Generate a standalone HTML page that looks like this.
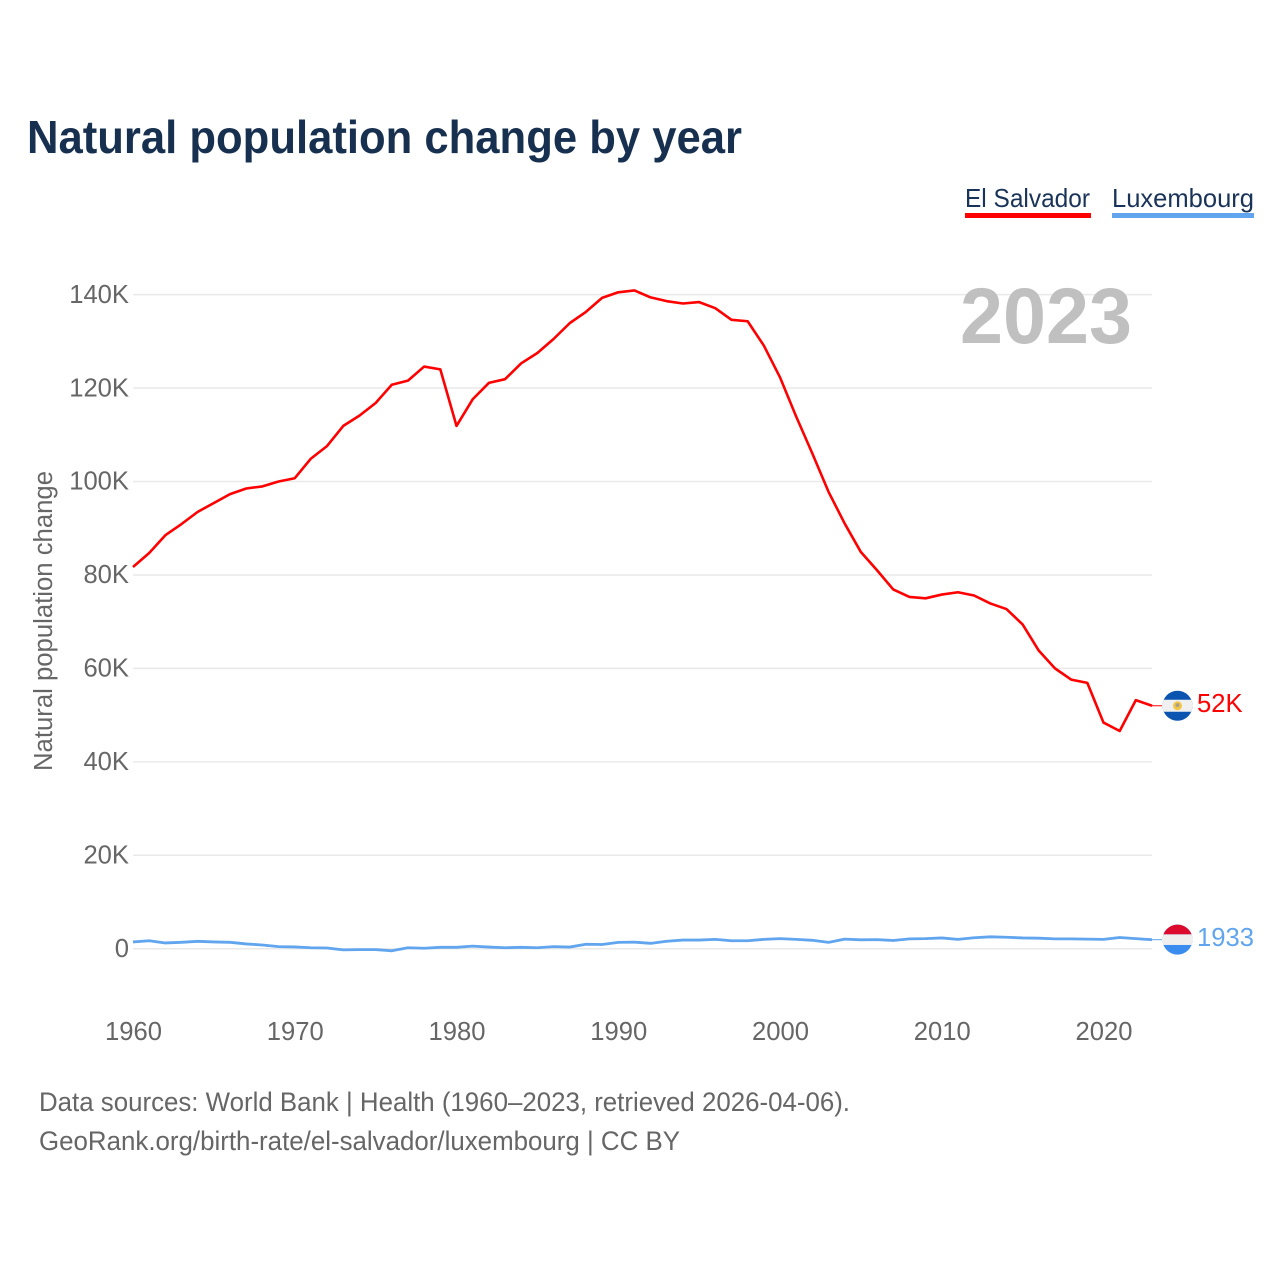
<!DOCTYPE html>
<html lang="en">
<head>
<meta charset="utf-8">
<title>Natural population change by year</title>
<style>
html,body{margin:0;padding:0;background:#fff;}
svg{display:block;font-family:"Liberation Sans",sans-serif;}
</style>
</head>
<body>
<svg id="chart" xmlns="http://www.w3.org/2000/svg" width="1280" height="1280" viewBox="0 0 1280 1280">
  <rect x="0" y="0" width="1280" height="1280" fill="#ffffff"/>
  <text x="27" y="153" font-size="46" font-weight="700" fill="#17304f" textLength="715" lengthAdjust="spacingAndGlyphs">Natural population change by year</text>

  <g>
    <text x="965" y="207" font-size="26" fill="#1a3358" textLength="125" lengthAdjust="spacingAndGlyphs">El Salvador</text>
    <rect x="965" y="213" width="126" height="5" fill="#ff0000"/>
  </g>
  <g>
    <text x="1112" y="207" font-size="26" fill="#1a3358" textLength="142" lengthAdjust="spacingAndGlyphs">Luxembourg</text>
    <rect x="1112" y="213" width="142" height="5" fill="#60a5ee"/>
  </g>

  <text transform="translate(52,771) rotate(-90)" font-size="25.5" fill="#666666" textLength="300" lengthAdjust="spacingAndGlyphs">Natural population change</text>

  <g id="grid"></g>
  <g id="yticks"></g>
  <g id="xticks"></g>

  <text x="960" y="343" font-size="79" font-weight="700" fill="#c0c0c0" textLength="172" lengthAdjust="spacingAndGlyphs">2023</text>

  <g id="series"></g>

  <defs>
    <clipPath id="clip-es"><circle id="clip-es-c" cx="1177.5" cy="705.4" r="15"/></clipPath>
    <clipPath id="clip-lu"><circle id="clip-lu-c" cx="1177.5" cy="939.5" r="15"/></clipPath>
  </defs>
  <g id="flags"></g>

  <text x="39" y="1111" font-size="27" fill="#666666" textLength="811" lengthAdjust="spacingAndGlyphs">Data sources: World Bank | Health (1960–2023, retrieved 2026-04-06).</text>
  <text x="39" y="1150" font-size="27" fill="#666666" textLength="641" lengthAdjust="spacingAndGlyphs">GeoRank.org/birth-rate/el-salvador/luxembourg | CC BY</text>
</svg>

<script>
const startYear = 1960;
const xTickYears = [1960, 1970, 1980, 1990, 2000, 2010, 2020];
const yTickValues = [0, 20, 40, 60, 80, 100, 120, 140];
const yTickLabels = ["0", "20K", "40K", "60K", "80K", "100K", "120K", "140K"];
const elSalvadorValues = [
  81.7, 84.7, 88.5, 90.9, 93.5, 95.4, 97.3, 98.5, 98.95, 100.0,
  100.7, 104.9, 107.6, 111.9, 114.1, 116.8, 120.7, 121.6, 124.6, 124.0,
  111.9, 117.6, 121.1, 121.9, 125.3, 127.5, 130.5, 133.9, 136.3, 139.3,
  140.5, 140.9, 139.4, 138.6, 138.1, 138.4, 137.1, 134.6, 134.3, 129.1,
  122.3, 113.9, 106.0, 97.8, 91.0, 84.9, 81.0, 76.9, 75.3, 75.0,
  75.8, 76.3, 75.6, 73.9, 72.7, 69.4, 63.8, 60.0, 57.6, 56.9,
  48.4, 46.6, 53.2, 52.0
];
const luxembourgValues = [
  1.45, 1.7, 1.23, 1.37, 1.58, 1.45, 1.37, 1.02, 0.8, 0.45,
  0.38, 0.2, 0.15, -0.25, -0.2, -0.2, -0.45, 0.2, 0.1, 0.3,
  0.3, 0.55, 0.35, 0.2, 0.3, 0.2, 0.45, 0.35, 0.95, 0.9,
  1.35, 1.4, 1.15, 1.6, 1.85, 1.85, 2.0, 1.7, 1.7, 2.0,
  2.15, 2.0, 1.8, 1.35, 2.05, 1.9, 1.95, 1.75, 2.1, 2.15,
  2.3, 2.0, 2.35, 2.55, 2.45, 2.3, 2.25, 2.1, 2.1, 2.05,
  2.0, 2.4, 2.15, 1.933
];
const elSalvadorEndLabel = "52K";
const luxembourgEndLabel = "1933";

const NS = "http://www.w3.org/2000/svg";
const x = year => 133 + (year - startYear) * 16.175;
const y = value => 948.7 - value * 4.672;

function make(tag, attrs, parent, text) {
  const el = document.createElementNS(NS, tag);
  for (const k in attrs) el.setAttribute(k, attrs[k]);
  if (text !== undefined) el.textContent = text;
  parent.appendChild(el);
  return el;
}

const grid = document.getElementById("grid");
const yticks = document.getElementById("yticks");
const xticks = document.getElementById("xticks");
const series = document.getElementById("series");
const flags = document.getElementById("flags");
const endYear = startYear + elSalvadorValues.length - 1;

yTickValues.forEach((v, i) => {
  const line = make("line", {x1: x(startYear), x2: x(endYear), y1: y(v), y2: y(v), stroke: "#e9e9e9", "stroke-width": 1.5}, grid);
  
  
  const label = make("text", {x: 129, y: y(v) + 8.2, "text-anchor": "end", "font-size": 25.6, fill: "#666666"}, yticks, yTickLabels[i]);
  
  
});

xTickYears.forEach(year => {
  const label = make("text", {x: x(year) + 0.5, y: 1040, "text-anchor": "middle", "font-size": 25.6, fill: "#666666"}, xticks, String(year));
  
  
});

function pathOf(values) {
  return values.map((v, i) => (i ? "L" : "M") + x(startYear + i).toFixed(2) + " " + y(v).toFixed(2)).join(" ");
}

const esLine = make("path", {d: pathOf(elSalvadorValues), fill: "none", stroke: "#ff0000", "stroke-width": 2.6, "stroke-linejoin": "round"}, series);



const luLine = make("path", {d: pathOf(luxembourgValues), fill: "none", stroke: "#60a5ee", "stroke-width": 2.8, "stroke-linejoin": "round"}, series);



/* end markers follow the last value of each series */
const esEnd = y(elSalvadorValues[elSalvadorValues.length - 1]);
const luEnd = y(luxembourgValues[luxembourgValues.length - 1]);
document.getElementById("clip-es-c").setAttribute("cy", esEnd);
document.getElementById("clip-lu-c").setAttribute("cy", luEnd);

const esConnector = make("line", {x1: x(endYear), x2: 1162, y1: esEnd, y2: esEnd, stroke: "#ff0000", "stroke-width": 1}, flags);



const luConnector = make("line", {x1: x(endYear), x2: 1162, y1: luEnd, y2: luEnd, stroke: "#60a5ee", "stroke-width": 1}, flags);



const esFlag = make("g", {"clip-path": "url(#clip-es)"}, flags);


make("rect", {x: 1160, y: esEnd - 16, width: 36, height: 32, fill: "#0b54b0"}, esFlag);
make("rect", {x: 1160, y: esEnd - 6, width: 36, height: 12, fill: "#f0f0f0"}, esFlag);
make("circle", {cx: 1177.5, cy: esEnd, r: 4.5, fill: "#f2c648"}, esFlag);
make("circle", {cx: 1177.5, cy: esEnd - 0.6, r: 2, fill: "#a8a090"}, esFlag);

const luFlag = make("g", {"clip-path": "url(#clip-lu)"}, flags);


make("rect", {x: 1160, y: luEnd - 16, width: 36, height: 32, fill: "#3a8cee"}, luFlag);
make("rect", {x: 1160, y: luEnd - 16, width: 36, height: 10.7, fill: "#dc0a2c"}, luFlag);
make("rect", {x: 1160, y: luEnd - 5.3, width: 36, height: 10.6, fill: "#efefef"}, luFlag);

const esLabel = make("text", {x: 1197, y: esEnd + 6.2, "font-size": 25.6, fill: "#ff0000"}, flags, elSalvadorEndLabel);



const luLabel = make("text", {x: 1197, y: luEnd + 6.2, "font-size": 25.6, fill: "#60a5ee"}, flags, luxembourgEndLabel);


</script>
</body>
</html>
